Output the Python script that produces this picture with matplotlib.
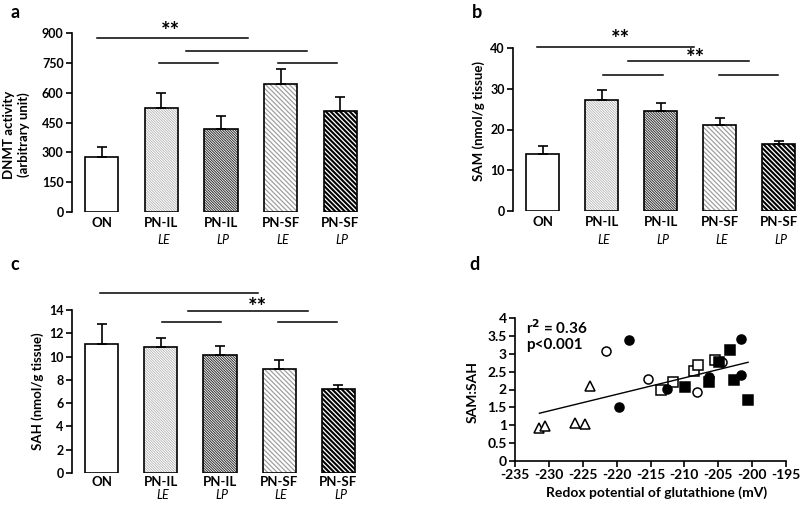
import numpy as np
import matplotlib
matplotlib.use("Agg")
import matplotlib.pyplot as plt
from matplotlib.transforms import blended_transform_factory

plt.rcParams['font.family'] = ['Lato', 'DejaVu Sans']
plt.rcParams['axes.unicode_minus'] = False

# ===== Data =====
groups = ["ON", "PN-IL", "PN-IL", "PN-SF", "PN-SF"]
subgroups = ["", "LE", "LP", "LE", "LP"]

dnmt = [275, 525, 418, 645, 508]
dnmt_err = [50, 72, 64, 75, 69]
sam = [14.0, 27.2, 24.5, 21.0, 16.5]
sam_err = [2.0, 2.6, 2.1, 1.8, 0.7]
sah = [11.1, 10.8, 10.1, 8.9, 7.2]
sah_err = [1.7, 0.8, 0.8, 0.8, 0.4]

# significance lines (x start, x end, y) and "**" marks (x, y)
dnmt_lines = [(-0.08, 2.45, 875), (1.41, 3.44, 810), (0.96, 1.95, 749), (2.96, 3.95, 749)]
dnmt_stars = [(1.16, 920)]
sam_lines = [(-0.09, 2.56, 40.2), (1.45, 3.49, 36.8), (1.02, 2.04, 33.4), (2.99, 3.98, 33.4)]
sam_stars = [(1.31, 42.6), (2.58, 38.1)]
sah_lines = [(-0.03, 2.64, 15.46), (1.46, 3.49, 13.9), (1.02, 2.02, 12.97), (2.98, 3.98, 12.97)]
sah_stars = [(2.64, 14.45)]

# panel d scatter
tri_x = [-231.4, -230.5, -226.2, -224.7, -224.0]
tri_y = [0.93, 0.98, 1.07, 1.03, 2.10]
ocirc_x = [-221.6, -215.4, -208.1, -204.4]
ocirc_y = [3.09, 2.30, 1.94, 2.77]
fcirc_x = [-218.2, -219.7, -212.6, -206.4, -201.6, -201.7]
fcirc_y = [3.38, 1.52, 2.01, 2.36, 3.40, 2.41]
osq_x = [-213.4, -211.7, -208.6, -208.0, -205.5]
osq_y = [1.99, 2.21, 2.52, 2.69, 2.83]
fsq_x = [-209.9, -206.3, -204.9, -203.2, -202.7, -200.6]
fsq_y = [2.06, 2.20, 2.78, 3.10, 2.27, 1.70]

# bar styles
hatches = ["", "\\" * 13, "\\" * 13, "\\" * 7, "\\" * 7]
hatch_cols = ["white", "#a8a8a8", "#303030", "#a0a0a0", "black"]
hatch_lws = [0.5, 0.5, 0.7, 0.9, 1.5]

fig = plt.figure(figsize=(8, 5.07), dpi=100)
PX = 0.72  # points per pixel


def bar_panel(rect, vals, errs, ymax, yticks, ylabel, lines, stars, xmax,
              ylab_pos, lab_off):
    ax = fig.add_axes(rect)
    x = np.arange(len(vals))
    # hatch layer
    bars = ax.bar(x, vals, 0.56, color="white", edgecolor=hatch_cols, linewidth=0)
    for b, h, lw in zip(bars, hatches, hatch_lws):
        b.set_hatch(h)
        if hasattr(b, "set_hatch_linewidth"):
            b.set_hatch_linewidth(lw)
    # outline + error bars
    ax.bar(x, vals, 0.56, fill=False, edgecolor="black", linewidth=1.2,
           yerr=[np.zeros(len(errs)), errs], capsize=3.5,
           error_kw=dict(elinewidth=1.2, capthick=1.2, ecolor="black"))
    ax.set_xlim(-0.5, xmax)
    ax.set_ylim(0, ymax)
    ax.set_yticks(yticks)
    for s in ["top", "right", "bottom"]:
        ax.spines[s].set_visible(False)
    ax.spines["left"].set_linewidth(1.2)
    ax.tick_params(axis="y", direction="out", length=4, width=1.2, labelsize=9, pad=2)
    ax.set_xticks([])
    for lab in ax.get_yticklabels():
        lab.set_fontweight("bold")
    tr = blended_transform_factory(ax.transData, ax.transAxes)
    for xi, g, sub in zip(x, groups, subgroups):
        ax.annotate(g, (xi, 0), xycoords=tr, xytext=(0, -lab_off[0] * PX),
                    textcoords="offset points", ha="center", va="center",
                    fontsize=9.5, fontweight="bold")
        ax.annotate(sub, (xi, 0), xycoords=tr, xytext=(2 * PX, -lab_off[1] * PX),
                    textcoords="offset points", ha="center", va="center",
                    fontsize=9, fontstyle="italic")
    for x0, x1, y in lines:
        ax.plot([x0, x1], [y, y], color="black", linewidth=1.1, clip_on=False)
    for sx, sy in stars:
        ax.annotate("**", (sx, sy), xytext=(0, -9 * PX), textcoords="offset points",
                    ha="center", va="baseline", fontsize=16, fontweight="bold",
                    annotation_clip=False)
    ax.set_ylabel(ylabel, fontsize=9.5, fontweight="bold")
    ax.yaxis.set_label_coords(*ylab_pos)
    ax.yaxis.label.set_va("center")
    return ax


# ===== Panel a =====
bar_panel([72 / 800, 1 - 212 / 507, 298 / 800, 179 / 507], dnmt, dnmt_err, 900,
          [0, 150, 300, 450, 600, 750, 900], "DNMT activity\n(arbitrary unit)",
          dnmt_lines, dnmt_stars, 4.5, (-0.185, 0.43), (11, 28))

# ===== Panel b =====
bar_panel([513 / 800, 1 - 211 / 507, 287 / 800, 163 / 507], sam, sam_err, 40,
          [0, 10, 20, 30, 40], "SAM (nmol/g tissue)",
          sam_lines, sam_stars, -0.5 + 287 / 59.1, (-0.118, 0.55), (11, 29))

# ===== Panel c =====
bar_panel([72 / 800, 1 - 473 / 507, 296 / 800, 163 / 507], sah, sah_err, 14,
          [0, 2, 4, 6, 8, 10, 12, 14], "SAH (nmol/g tissue)",
          sah_lines, sah_stars, 4.5, (-0.115, 0.50), (9, 22))

# ===== Panel d =====
axd = fig.add_axes([515 / 800, 1 - 461 / 507, 271 / 800, 143 / 507])
mk = dict(markersize=6.5, markeredgecolor="black", markeredgewidth=1.1, linestyle="none")
axd.plot(tri_x, tri_y, "^", markerfacecolor="white", **mk)
axd.plot(ocirc_x, ocirc_y, "o", markerfacecolor="white", **mk)
axd.plot(osq_x, osq_y, "s", markerfacecolor="white", **mk)
axd.plot(fsq_x, fsq_y, "s", markerfacecolor="black", **mk)
axd.plot(fcirc_x, fcirc_y, "o", markerfacecolor="black", **mk)

all_x = np.array(tri_x + ocirc_x + fcirc_x + osq_x + fsq_x)
all_y = np.array(tri_y + ocirc_y + fcirc_y + osq_y + fsq_y)
slope, icpt = np.polyfit(all_x, all_y, 1)
xfit = np.array([all_x.min(), all_x.max()])
axd.plot(xfit, slope * xfit + icpt, color="black", linewidth=1.0)

axd.set_xlim(-235, -195)
axd.set_ylim(0, 4)
axd.set_xticks(np.arange(-235, -194, 5))
axd.set_yticks([0, 0.5, 1, 1.5, 2, 2.5, 3, 3.5, 4])
axd.set_yticklabels(["0", "0.5", "1", "1.5", "2", "2.5", "3", "3.5", "4"])
for s in ["top", "right"]:
    axd.spines[s].set_visible(False)
axd.spines["left"].set_linewidth(1.2)
axd.spines["bottom"].set_linewidth(1.2)
axd.tick_params(direction="out", length=4, width=1.2, labelsize=10, pad=2)
axd.tick_params(axis="x", pad=2)
for lab in axd.get_xticklabels() + axd.get_yticklabels():
    lab.set_fontweight("bold")
axd.set_xlabel("Redox potential of glutathione (mV)", fontsize=10, fontweight="bold")
axd.xaxis.set_label_coords(0.524, -0.222)
axd.xaxis.label.set_va("center")
axd.set_ylabel("SAM:SAH", fontsize=10, fontweight="bold")
axd.yaxis.set_label_coords(-0.155, 0.48)
axd.yaxis.label.set_va("center")
axd.text(0.04, 0.93, "r$^\\mathbf{2}$ = 0.36", transform=axd.transAxes, fontsize=11,
         fontweight="bold", va="center")
axd.text(0.04, 0.81, "p<0.001", transform=axd.transAxes, fontsize=11,
         fontweight="bold", va="center")

# panel letters
for lx, ly, lt in [(15, 13, "a"), (477, 13, "b"), (15, 265, "c"), (475, 265, "d")]:
    fig.text(lx / 800, 1 - ly / 507, lt, fontsize=13, fontweight="bold",
             ha="center", va="center")

fig.savefig("out.png", dpi=100)
